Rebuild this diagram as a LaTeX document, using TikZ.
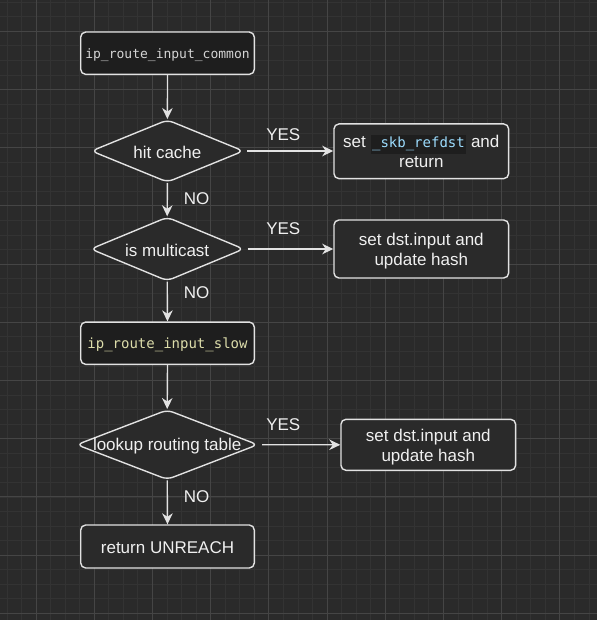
\documentclass[tikz,border=0pt]{standalone}
\usepackage{fontspec}
\setmainfont{Liberation Sans}
\newfontfamily\codefont{DejaVu Sans Mono}
\usetikzlibrary{shapes.geometric,arrows.meta}
\definecolor{bg}{HTML}{2A2A2A}
\definecolor{gridminor}{HTML}{333333}
\definecolor{gridmajor}{HTML}{454545}
\definecolor{edge}{HTML}{E2E2E2}
\definecolor{fg}{HTML}{F0F0F0}
\definecolor{codebg}{HTML}{1E1E1E}
\definecolor{codegray}{HTML}{D4D4D4}
\definecolor{codeyellow}{HTML}{DCDCAA}
\definecolor{codeblue}{HTML}{9CDCFE}
\newcommand{\inlinecode}[1]{{\setlength{\fboxsep}{1.5pt}\colorbox{codebg}{\codefont\fontsize{14}{16}\selectfont\color{codeblue}\rule[-4.5pt]{0pt}{16pt}#1}}}
\newcommand{\shiftdown}[2]{\raisebox{-#1}[\height][\depth]{#2}}
\newcommand{\dtext}[1]{\makebox[0pt]{\shiftdown{1.5pt}{#1}}}
\newcommand{\twolines}[2]{\shiftdown{2.5pt}{\begin{tabular}{@{}c@{}}#1\\#2\end{tabular}}}
\begin{document}
\begin{tikzpicture}[x=1pt,y=-1pt,
  every node/.style={text=fg, font=\fontsize{17}{20}\selectfont},
  basebox/.style={draw=edge, line width=1.4pt, rounded corners=5pt, inner sep=0pt, align=center},
  box/.style={basebox, fill=bg, minimum width=174.7pt},
  codebox/.style={basebox, fill=codebg, minimum width=173.6pt, minimum height=42.3pt},
  decision/.style={diamond, draw=edge, line width=1.4pt, rounded corners=6pt, fill=bg, inner sep=0pt},
  arr/.style={draw=edge, line width=1.4pt, -{Stealth[length=11pt,width=10.5pt,inset=3.5pt]}},
  lbl/.style={inner sep=0pt}
]
\useasboundingbox (0,0) rectangle (597,620);
\fill[bg] (0,0) rectangle (597,620);
% grid
\foreach \i in {-2,...,39} {
  \draw[gridminor, line width=0.8pt] ({36+14.55*\i},0) -- ({36+14.55*\i},620);
}
\foreach \i in {-2,...,41} {
  \draw[gridminor, line width=0.8pt] (0,{31.3+14.55*\i}) -- (597,{31.3+14.55*\i});
}
\foreach \i in {0,...,9} {
  \draw[gridmajor, line width=0.9pt] ({36+58.2*\i},0) -- ({36+58.2*\i},620);
}
\foreach \i in {0,...,10} {
  \draw[gridmajor, line width=0.9pt] (0,{31.3+58.2*\i}) -- (597,{31.3+58.2*\i});
}

% nodes
\node[codebox] (common) at (167.5,53.2) {\shiftdown{2pt}{\codefont\fontsize{13}{15}\selectfont\color{codegray}ip\_route\_input\_common}};
\node[decision, minimum width=152.5pt, minimum height=62.6pt] (hit) at (167.4,151) {\dtext{hit cache}};
\node[box, minimum height=54.7pt] (ret1) at (421.3,151.3) {\twolines{set \inlinecode{\_skb\_refdst} and}{return}};
\node[decision, minimum width=153.5pt, minimum height=64pt] (mc) at (167.2,249) {\dtext{is multicast}};
\node[box, minimum height=58pt] (upd1) at (421.3,249) {\twolines{set dst.input and}{update hash}};
\node[codebox] (slow) at (167.5,343.2) {\shiftdown{2pt}{\codefont\fontsize{14}{16}\selectfont\color{codeyellow}ip\_route\_input\_slow}};
\node[decision, minimum width=181.5pt, minimum height=70pt] (lookup) at (167.2,444.7) {\dtext{lookup routing table}};
\node[box, minimum height=51pt] (upd2) at (428.3,444.8) {\twolines{set dst.input and}{update hash}};
\node[codebox, fill=bg, minimum height=43pt] (unreach) at (167.5,546.5) {\shiftdown{1pt}{return UNREACH}};

% labels
\node[lbl] (yes1) at (283.3,134.5) {YES};
\node[lbl] (yes2) at (283.3,228.3) {YES};
\node[lbl] (yes3) at (283.3,424.3) {YES};
\node[lbl] (no1) at (196.7,199) {NO};
\node[lbl] (no2) at (196.7,293) {NO};
\node[lbl] (no3) at (196.7,496.5) {NO};

% connectors
\draw[arr] (common.south) -- (hit.north);
\draw[arr] (hit.south) -- (mc.north);
\draw[arr] (mc.south) -- (slow.north);
\draw[arr] (slow.south) -- (lookup.north);
\draw[arr] (lookup.south) -- (unreach.north);
\draw[arr, shorten <=3pt] (hit.east) -- (hit.east -| ret1.west);
\draw[arr, shorten <=3pt] (mc.east) -- (upd1.west);
\draw[arr, shorten <=3.5pt] (lookup.east) -- (upd2.west);
\end{tikzpicture}
\end{document}
